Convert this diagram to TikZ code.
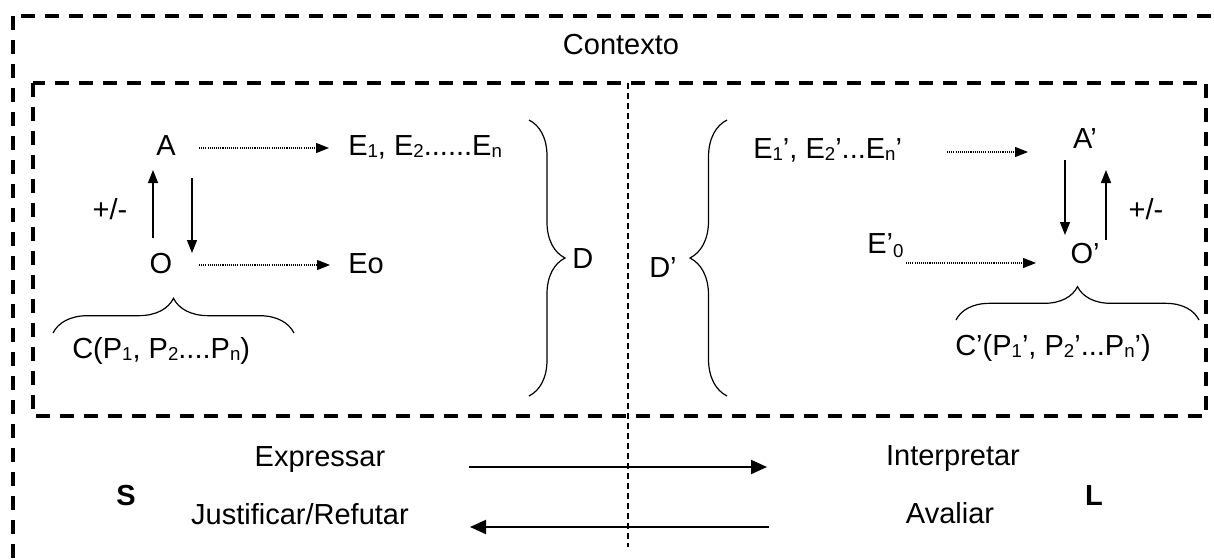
\documentclass[tikz,border=0pt]{standalone}
\usepackage{fontspec}
\setmainfont{Liberation Sans}
\usetikzlibrary{arrows.meta,calc,decorations.pathreplacing}
% small lowered indices
\newcommand\lsub[1]{\raisebox{-1.5pt}{\fontsize{14}{14}\selectfont #1}}
\newcommand\dsub[1]{\raisebox{-3.5pt}{\fontsize{14}{14}\selectfont #1}}

\begin{document}
\begin{tikzpicture}[x=0.75pt,y=-0.75pt,
  lbl/.style={inner sep=0pt, anchor=base, font=\fontsize{21.75}{26}\selectfont},
  lblw/.style={lbl, anchor=base west},
  boxline/.style={line width=2.4pt, dash pattern=on 10.5pt off 7.5pt},
  divider/.style={line width=0.9pt, dash pattern=on 4.5pt off 3pt},
  dotarr/.style={line width=0.8pt, dash pattern=on 0.8pt off 0.8pt,
                 -{Triangle[length=9.75pt,width=7.5pt]}},
  varr/.style={line width=1.1pt, -{Triangle[length=9.75pt,width=7.5pt]}},
  bigarr/.style={line width=1.5pt, -{Triangle[length=12pt,width=10.5pt]}},
  curly/.style={line width=0.9pt, decorate, decoration={brace, amplitude=#1}},
]
\useasboundingbox (0,0) rectangle (1214,560);
\clip (0,0) rectangle (1214,560);

% frames
\draw[boxline] (13,16) rectangle (1240,600);
\draw[boxline] (33,83) rectangle (1206,416);
\draw[divider] (628,83) -- (628,547);

\node[lbl] (ctx) at (621,55) {Contexto};

% speaker side
\node[lbl]  (A)  at (166,156) {A};
\node[lblw] (E1) at (348,156) {E\lsub{1}, E\lsub{2}......E\lsub{n}};
\node[lbl]  (pm) at (110,219) {+/-};
\node[lbl]  (O)  at (161,273) {O};
\node[lblw] (Eo) at (348,273) {Eo};
\node[lblw] (C)  at (72,358) {C(P\lsub{1}, P\lsub{2}....P\lsub{n})};
\node[lblw] (D)  at (572,268) {D};

\draw[dotarr] ($(A.base)+(33,-8)$) -- ($(E1.base west)+(-19,-8)$);
\draw[dotarr] ($(O.base)+(38,-8)$) -- ($(Eo.base west)+(-18,-8)$);
\draw[varr] ($(O.base)+(-8,-35)$) -- ($(A.base)+(-13,14)$);
\draw[varr] ($(A.base)+(26,22)$) -- ($(O.base)+(31,-20)$);

\draw[curly=26pt] (53,333) -- (294,333);
\draw[curly=27pt] (529,120) -- (529,396);

% listener side
\node[lblw] (Dp)  at (649,277) {D’};
\node[lblw] (E1p) at (753,158) {E\lsub{1}’, E\lsub{2}’...E\lsub{n}’};
\node[lbl]  (Ap)  at (1085,148) {A’};
\node[lbl]  (pmp) at (1146,219) {+/-};
\node[lblw] (E0p) at (867,253) {E’\dsub{0}};
\node[lbl]  (Op)  at (1085,263) {O’};
\node[lblw] (Cp)  at (955,355) {C’(P\lsub{1}’, P\lsub{2}’...P\lsub{n}’)};

\draw[dotarr] ($(E1p.base west)+(194,-6)$) -- ($(Ap.base)+(-57,4)$);
\draw[dotarr] ($(E0p.base west)+(39,10)$) -- ($(Op.base)+(-49,0)$);
\draw[varr] ($(Ap.base)+(-20,12)$) -- ($(Op.base)+(-20,-28)$);
\draw[varr] ($(Op.base)+(21,-23)$) -- ($(Ap.base)+(21,22)$);

\draw[curly=25pt] (956,320) -- (1199,320);
\draw[curly=27.75pt] (727,396) -- (727,120);

% exchange between S and L
\node[lbl] (expr)   at (320,466) {Expressar};
\node[lbl] (interp) at (953,465) {Interpretar};
\node[lbl] (just)   at (300,524) {Justificar/Refutar};
\node[lbl] (aval)   at (950,523) {Avaliar};
\node[lbl, font=\fontsize{21.75}{26}\selectfont\bfseries] (S) at (126,505) {S};
\node[lbl, font=\fontsize{21.75}{26}\selectfont\bfseries] (L) at (1094,505) {L};

\draw[bigarr] ($(expr.base)+(149,1)$) -- ($(interp.base)+(-186,2)$);
\draw[bigarr] ($(aval.base)+(-181,4)$) -- ($(just.base)+(170,3)$);
\end{tikzpicture}
\end{document}
